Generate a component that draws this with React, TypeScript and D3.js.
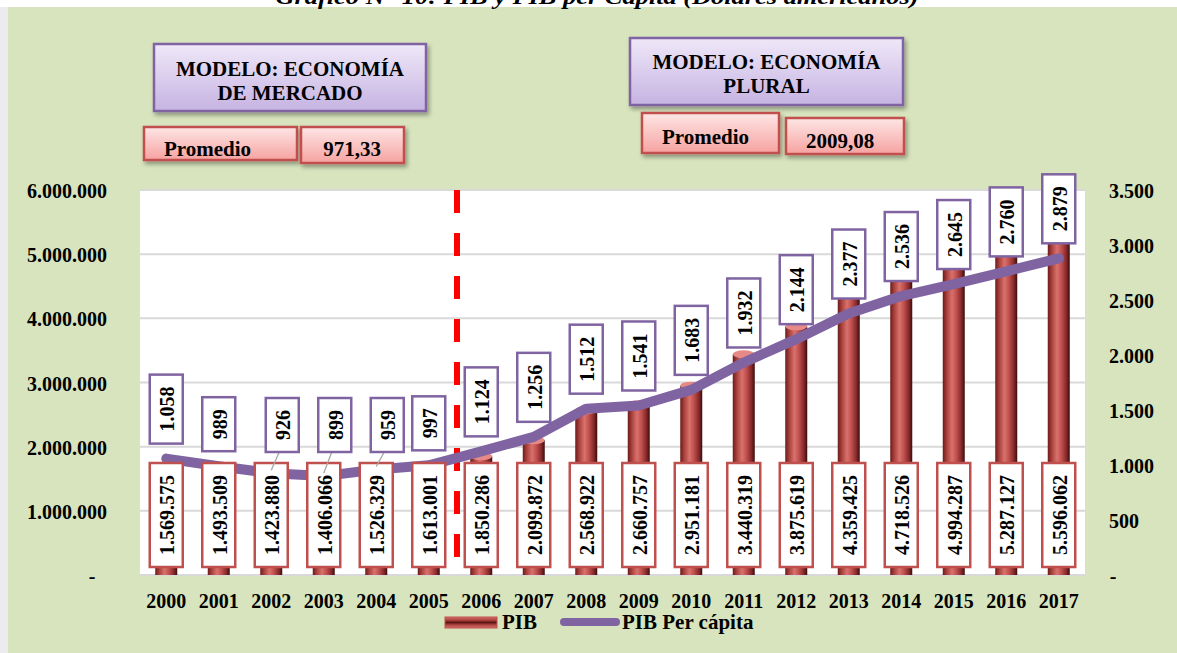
import * as d3 from "d3";
import { useEffect, useRef } from "react";

// DATOS DEL GRÁFICO
const years = ["2000", "2001", "2002", "2003", "2004", "2005", "2006", "2007", "2008",
    "2009", "2010", "2011", "2012", "2013", "2014", "2015", "2016", "2017"];
const pib = [1569575, 1493509, 1423880, 1406066, 1526329, 1613001, 1850286, 2099872, 2568922,
    2660757, 2951181, 3440319, 3875619, 4359425, 4718526, 4994287, 5287127, 5596062];
const pibPerCapita = [1058, 989, 926, 899, 959, 997, 1124, 1256, 1512,
    1541, 1683, 1932, 2144, 2377, 2536, 2645, 2760, 2879];
const leftTicks = [0, 1000000, 2000000, 3000000, 4000000, 5000000, 6000000];
const rightTicks = [0, 500, 1000, 1500, 2000, 2500, 3000, 3500];
const modeloMercado = ["MODELO: ECONOMÍA", "DE MERCADO"];
const modeloPlural = ["MODELO: ECONOMÍA", "PLURAL"];
const promedios = ["971,33", "2009,08"];
const divisionYear = "2005";
const titulo = "Gráfico N° 10: PIB y PIB per Cápita (Dólares americanos)";

const FONT = "'Liberation Serif', 'Times New Roman', serif";
const locale = d3.formatLocale({ decimal: ",", thousands: ".", grouping: [3], currency: ["", ""] });
const fmt = (v: number) => (v === 0 ? "-" : locale.format(",d")(v));

const App = () => {
    const chartRef = useRef<SVGSVGElement | null>(null);

    // TAMAÑOS
    const width = 1177;
    const height = 653;
    const plot = { left: 140, right: 1085, top: 190, bottom: 575 };

    useEffect(() => {
        const svg = d3.select(chartRef.current);
        svg.selectAll("*").remove();

        const x = d3.scaleBand().domain(years).range([plot.left, plot.right]).padding(0);
        const yL = d3.scaleLinear().domain([0, 6000000]).range([plot.bottom, plot.top]);
        const yR = d3.scaleLinear().domain([0, 3500]).range([plot.bottom, plot.top]);
        const cx = (d: string) => (x(d) as number) + x.bandwidth() / 2;

        // DEFINICIONES: degradados y sombra
        const defs = svg.append("defs");
        const barGrad = defs.append("linearGradient").attr("id", "barGrad")
            .attr("x1", "0").attr("x2", "1").attr("y1", "0").attr("y2", "0");
        [[0, "#6b1b19"], [0.18, "#a8403c"], [0.42, "#d9716d"], [0.62, "#c0504d"], [0.85, "#84282a"], [1, "#3a0c0b"]]
            .forEach(([o, c]) => barGrad.append("stop").attr("offset", o as number).attr("stop-color", c as string));
        const legGrad = defs.append("linearGradient").attr("id", "legGrad")
            .attr("x1", "0").attr("x2", "0").attr("y1", "0").attr("y2", "1");
        [[0, "#d9716d"], [0.3, "#a8403c"], [0.5, "#5a1614"], [0.7, "#a8403c"], [1, "#d9716d"]]
            .forEach(([o, c]) => legGrad.append("stop").attr("offset", o as number).attr("stop-color", c as string));
        const purpleGrad = defs.append("linearGradient").attr("id", "purpleGrad")
            .attr("x1", "0").attr("x2", "0").attr("y1", "0").attr("y2", "1");
        purpleGrad.append("stop").attr("offset", 0).attr("stop-color", "#efe8f8");
        purpleGrad.append("stop").attr("offset", 1).attr("stop-color", "#c6b3e2");
        const redGrad = defs.append("linearGradient").attr("id", "redGrad")
            .attr("x1", "0").attr("x2", "0").attr("y1", "0").attr("y2", "1");
        redGrad.append("stop").attr("offset", 0).attr("stop-color", "#fde6e5");
        redGrad.append("stop").attr("offset", 1).attr("stop-color", "#f6a3a1");
        const shadow = defs.append("filter").attr("id", "shadow")
            .attr("x", "-10%").attr("y", "-10%").attr("width", "130%").attr("height", "140%");
        shadow.append("feDropShadow").attr("dx", 2).attr("dy", 3).attr("stdDeviation", 2)
            .attr("flood-color", "#000").attr("flood-opacity", 0.35);

        // FONDO
        svg.append("rect").attr("width", width).attr("height", height).attr("fill", "#ffffff");
        svg.append("rect").attr("x", 0).attr("y", 7).attr("width", 8).attr("height", height - 7).attr("fill", "#ececf0");
        svg.append("rect").attr("x", 8).attr("y", 7).attr("width", width - 8).attr("height", height - 7).attr("fill", "#d7e4bd");

        // TÍTULO (cortado arriba)
        svg.append("text").attr("x", 597).attr("y", 4).attr("text-anchor", "middle")
            .attr("font-family", FONT).attr("font-size", 21).attr("font-weight", "bold")
            .attr("font-style", "italic").attr("textLength", 643).attr("lengthAdjust", "spacingAndGlyphs")
            .text(titulo);

        // ÁREA DEL GRÁFICO
        svg.append("rect").attr("x", plot.left).attr("y", plot.top)
            .attr("width", plot.right - plot.left).attr("height", plot.bottom - plot.top).attr("fill", "#ffffff");

        svg.append("g").selectAll("line").data(leftTicks).enter().append("line")
            .attr("x1", plot.left).attr("x2", plot.right)
            .attr("y1", d => yL(d)).attr("y2", d => yL(d))
            .attr("stroke", "#d9d9d9").attr("stroke-width", 2);

        // EJES
        const axisText = (sel: any) => sel.attr("font-family", FONT).attr("font-size", 20)
            .attr("font-weight", "bold").attr("fill", "#000").attr("dominant-baseline", "central");
        svg.append("g").selectAll("text").data(leftTicks).enter().append("text")
            .call(axisText)
            .attr("x", d => (d === 0 ? 92 : 107))
            .attr("y", d => yL(d) + 1)
            .attr("text-anchor", d => (d === 0 ? "middle" : "end"))
            .text(d => fmt(d));
        svg.append("g").selectAll("text").data(rightTicks).enter().append("text")
            .call(axisText)
            .attr("x", d => (d === 0 ? 1113 : 1109))
            .attr("y", d => yR(d) + 1)
            .attr("text-anchor", d => (d === 0 ? "middle" : "start"))
            .text(d => fmt(d));
        svg.append("g").selectAll("text").data(years).enter().append("text")
            .call(axisText)
            .attr("x", d => cx(d))
            .attr("y", 601)
            .attr("text-anchor", "middle")
            .text(d => d);

        // BARRAS (cilindros)
        const barW = 22;
        const bars = svg.append("g");
        bars.selectAll("rect").data(years).enter().append("rect")
            .attr("x", d => cx(d) - barW / 2)
            .attr("y", (d, i) => yL(pib[i]))
            .attr("width", barW)
            .attr("height", (d, i) => plot.bottom - yL(pib[i]))
            .attr("fill", "url(#barGrad)");
        bars.selectAll("ellipse").data(years).enter().append("ellipse")
            .attr("cx", d => cx(d))
            .attr("cy", (d, i) => yL(pib[i]))
            .attr("rx", barW / 2).attr("ry", 4)
            .attr("fill", "#e58a86");

        // LÍNEA DIVISORIA
        svg.append("line")
            .attr("x1", (x(divisionYear) as number) + x.bandwidth() + 2)
            .attr("x2", (x(divisionYear) as number) + x.bandwidth() + 2)
            .attr("y1", plot.top).attr("y2", plot.bottom)
            .attr("stroke", "#ff0000").attr("stroke-width", 6).attr("stroke-dasharray", "23 20");

        // LÍNEA PIB PER CÁPITA
        const line = d3.line<number>().x((d, i) => cx(years[i])).y(d => yR(d));
        svg.append("path").datum(pibPerCapita)
            .attr("d", line)
            .attr("fill", "none").attr("stroke", "#8064a2").attr("stroke-width", 10)
            .attr("stroke-linejoin", "round").attr("stroke-linecap", "round");

        // ETIQUETAS
        const labelW = 33;
        const pad = 12;
        const labels = svg.append("g");
        const drawLabel = (centerX: number, bottom: number, txt: string, stroke: string) => {
            const g = labels.append("g");
            const rect = g.append("rect");
            const t = g.append("text")
                .attr("font-family", FONT).attr("font-size", 20).attr("font-weight", "bold")
                .attr("text-anchor", "middle").attr("dominant-baseline", "central")
                .text(txt);
            const len = (t.node() as SVGTextElement).getComputedTextLength();
            const h = len + pad * 2;
            rect.attr("x", centerX - labelW / 2).attr("y", bottom - h)
                .attr("width", labelW).attr("height", h)
                .attr("fill", "#ffffff").attr("stroke", stroke).attr("stroke-width", 2.5);
            t.attr("transform", `translate(${centerX + 1},${bottom - h / 2}) rotate(-90)`);
            return h;
        };

        // etiquetas del PIB (base interior)
        let pibBoxTop = plot.bottom;
        years.forEach((yr, i) => {
            const h = drawLabel(cx(yr), plot.bottom - 8, fmt(pib[i]), "#c0504d");
            pibBoxTop = Math.min(pibBoxTop, plot.bottom - 8 - h);
        });

        // etiquetas del PIB per cápita (encima del punto)
        const limit = pibBoxTop - 11;
        years.forEach((yr, i) => {
            const py = yR(pibPerCapita[i]);
            const natural = py - 15;
            const moved = natural > limit + 1;
            const bottom = Math.min(natural, limit);
            const bx = cx(yr) + (moved ? 11 : 0);
            if (moved) {
                labels.append("line")
                    .attr("x1", bx - 3).attr("y1", bottom)
                    .attr("x2", cx(yr)).attr("y2", py - 3)
                    .attr("stroke", "#a6a6a6").attr("stroke-width", 1.3);
            }
            drawLabel(bx, bottom, fmt(pibPerCapita[i]), "#8064a2");
        });

        // CUADROS DE TEXTO
        const boxText = (sel: any) => sel.attr("font-family", FONT).attr("font-size", 21)
            .attr("font-weight", "bold").attr("fill", "#000").attr("text-anchor", "middle");
        const modelBox = (bx: number, by: number, bw: number, bh: number, lines: string[], ty: number[]) => {
            svg.append("rect").attr("x", bx).attr("y", by).attr("width", bw).attr("height", bh)
                .attr("fill", "url(#purpleGrad)").attr("stroke", "#8064a2").attr("stroke-width", 2.5)
                .attr("filter", "url(#shadow)");
            lines.forEach((l, i) => svg.append("text").call(boxText)
                .attr("x", bx + bw / 2).attr("y", ty[i]).text(l));
        };
        const redBox = (bx: number, by: number, bw: number, bh: number, txt: string, tx: number, ty: number, anchor: string) => {
            svg.append("rect").attr("x", bx).attr("y", by).attr("width", bw).attr("height", bh)
                .attr("fill", "url(#redGrad)").attr("stroke", "#c0504d").attr("stroke-width", 2.5)
                .attr("filter", "url(#shadow)");
            svg.append("text").call(boxText).attr("text-anchor", anchor)
                .attr("x", tx).attr("y", ty).text(txt);
        };
        modelBox(154, 44, 272, 67, modeloMercado, [76, 100]);
        redBox(144, 127, 153, 33, "Promedio", 164, 156, "start");
        redBox(301, 127, 103, 36, promedios[0], 352, 156, "middle");
        modelBox(630, 38, 273, 67, modeloPlural, [69, 93]);
        redBox(642, 113, 137, 40, "Promedio", 662, 144, "start");
        redBox(786, 118, 118, 36, promedios[1], 840, 148, "middle");

        // LEYENDA
        const legend = svg.append("g").attr("font-family", FONT).attr("font-size", 21).attr("font-weight", "bold");
        legend.append("rect").attr("x", 445).attr("y", 617).attr("width", 52).attr("height", 11)
            .attr("fill", "url(#legGrad)").attr("stroke", "#c0504d").attr("stroke-width", 1);
        legend.append("text").attr("x", 502).attr("y", 629).text("PIB");
        legend.append("line").attr("x1", 564).attr("x2", 616).attr("y1", 622).attr("y2", 622)
            .attr("stroke", "#8064a2").attr("stroke-width", 8).attr("stroke-linecap", "round");
        legend.append("text").attr("x", 622).attr("y", 629).text("PIB Per cápita");
    }, []);

    return (
        <svg ref={chartRef} width={width} height={height}
            style={{ position: "absolute", left: 0, top: 0, display: "block" }}></svg>
    );
};

export default App;
